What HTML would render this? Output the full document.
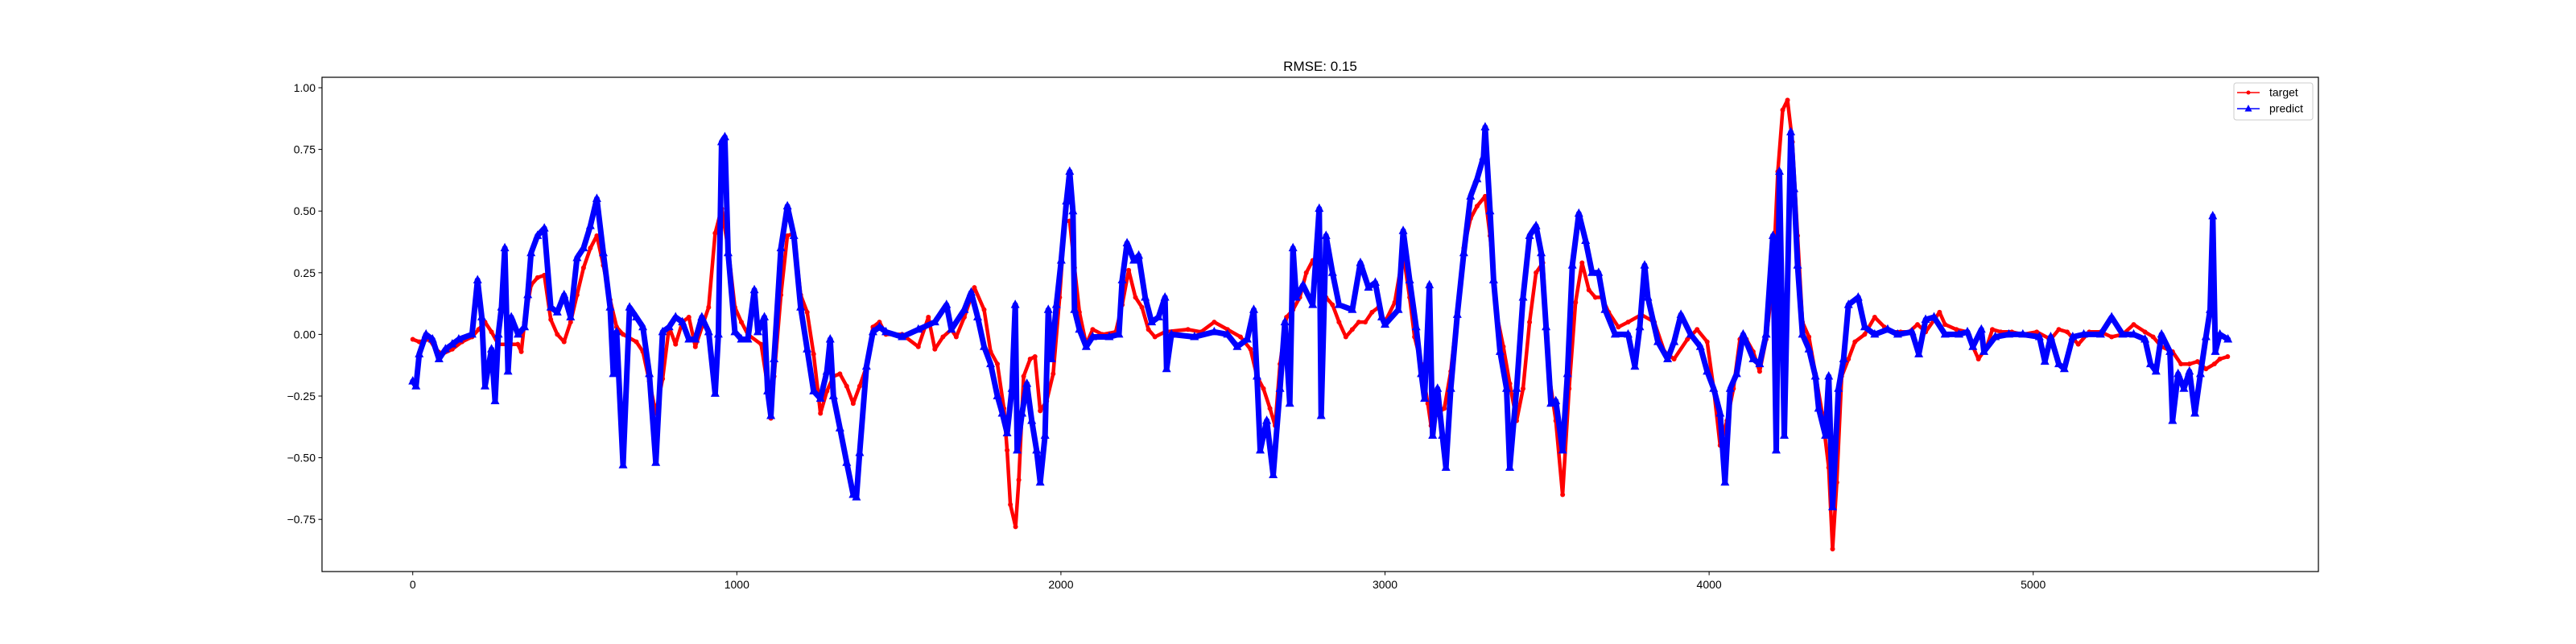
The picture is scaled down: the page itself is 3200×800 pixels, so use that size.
<!DOCTYPE html>
<html><head><meta charset="utf-8"><style>
html,body{margin:0;padding:0;background:#fff;}
svg{display:block;font-family:"Liberation Sans","DejaVu Sans",sans-serif;}
</style></head><body>
<svg id="chart" width="3200" height="800" viewBox="0 0 3200 800">
<rect x="0" y="0" width="3200" height="800" fill="#fff"/>
<text x="1640" y="88" text-anchor="middle" font-size="17" fill="#000">RMSE: 0.15</text>
<g id="plot"></g>
<g id="axes"></g>
<rect x="400" y="96" width="2480" height="614" fill="none" stroke="#000" stroke-width="1.2"/>
<g>
<rect x="2775" y="103" width="98" height="46" rx="3" fill="#fff" fill-opacity="0.8" stroke="#ccc"/>
<g>
<line x1="2779" y1="115" x2="2807" y2="115" stroke="#f00" stroke-width="1.5"/>
<circle cx="2793" cy="115" r="2.5" fill="#f00"/>
<text x="2819" y="119.5" font-size="14" fill="#000">target</text>
</g>
<g>
<line x1="2779" y1="135" x2="2807" y2="135" stroke="#00f" stroke-width="1.5"/>
<polygon points="2793,130 2797.5,138.5 2788.5,138.5" fill="#00f"/>
<text x="2819" y="139.5" font-size="14" fill="#000">predict</text>
</g>
</g>
</svg>
<script>
const xTicks = [0, 1000, 2000, 3000, 4000, 5000];
const yTicks = [-0.75, -0.5, -0.25, 0, 0.25, 0.5, 0.75, 1.0];
const yTickLabels = ["−0.75", "−0.50", "−0.25", "0.00", "0.25", "0.50", "0.75", "1.00"];
const targetX = [0,20,51,71,91,122,152,183,203,223,243,264,304,324,335,345,365,385,406,426,446,467,487,507,527,548,568,588,609,629,649,690,710,730,750,771,791,811,832,852,872,913,933,953,973,994,1014,1034,1075,1095,1105,1115,1136,1156,1176,1197,1217,1237,1258,1278,1298,1318,1339,1359,1379,1400,1420,1440,1460,1510,1560,1591,1611,1636,1662,1677,1702,1733,1763,1783,1804,1824,1834,1844,1860,1870,1885,1905,1920,1936,1956,1976,1996,2012,2027,2042,2057,2078,2098,2128,2169,2189,2209,2230,2250,2270,2290,2321,2392,2432,2473,2514,2554,2585,2605,2625,2645,2661,2676,2696,2716,2737,2757,2777,2797,2818,2838,2858,2879,2899,2919,2939,2960,2980,3000,3030,3056,3076,3091,3112,3132,3142,3162,3183,3203,3223,3243,3264,3284,3309,3324,3345,3365,3385,3406,3426,3446,3466,3487,3507,3527,3548,3568,3588,3608,3629,3649,3669,3690,3720,3750,3791,3831,3862,3892,3933,3963,3994,4014,4034,4055,4075,4095,4115,4136,4156,4176,4197,4212,4227,4242,4257,4273,4288,4308,4328,4349,4369,4381,4394,4409,4430,4450,4480,4511,4541,4566,4591,4617,4643,4668,4711,4728,4763,4797,4814,4831,4857,4874,4900,4934,4968,5011,5054,5079,5105,5139,5173,5208,5242,5276,5310,5345,5370,5396,5430,5456,5482,5507,5533,5559,5576,5600];
const targetY = [-0.02,-0.03,-0.02,-0.06,-0.08,-0.06,-0.03,-0.01,0.02,0.05,0.01,-0.04,-0.04,-0.04,-0.07,0.05,0.20,0.23,0.24,0.06,0.0,-0.03,0.05,0.16,0.27,0.35,0.40,0.28,0.14,0.03,0.0,-0.03,-0.07,-0.19,-0.32,-0.18,0.03,-0.04,0.05,0.07,-0.05,0.11,0.41,0.51,0.35,0.11,0.05,0.0,-0.04,-0.21,-0.34,-0.17,0.16,0.40,0.41,0.16,0.09,-0.08,-0.32,-0.23,-0.17,-0.16,-0.21,-0.28,-0.21,-0.13,0.03,0.05,0.0,0,-0.05,0.07,-0.06,-0.01,0.02,-0.01,0.07,0.19,0.10,-0.07,-0.12,-0.30,-0.47,-0.69,-0.78,-0.59,-0.17,-0.10,-0.09,-0.31,-0.27,-0.16,0.15,0.46,0.46,0.27,0.09,-0.04,0.02,0,0.01,0.12,0.26,0.15,0.11,0.02,-0.01,0.01,0.02,0.01,0.05,0.02,-0.01,-0.06,-0.17,-0.22,-0.30,-0.37,-0.12,0.07,0.10,0.15,0.25,0.30,0.22,0.15,0.12,0.05,-0.01,0.02,0.05,0.05,0.09,0.11,0.05,0.13,0.33,0.15,-0.01,-0.12,-0.28,-0.37,-0.32,-0.30,-0.15,0.09,0.35,0.47,0.52,0.56,0.40,0.08,-0.05,-0.20,-0.35,-0.22,0.05,0.25,0.29,-0.17,-0.35,-0.65,-0.22,0.13,0.29,0.18,0.15,0.15,0.09,0.03,0.05,0.08,0.05,-0.07,-0.10,-0.02,0.02,-0.03,-0.22,-0.45,-0.35,-0.22,-0.02,-0.02,-0.07,-0.15,-0.02,0.22,0.66,0.91,0.95,0.78,0.40,0.05,-0.01,-0.16,-0.32,-0.54,-0.87,-0.60,-0.17,-0.10,-0.03,0.0,0.07,0.03,0.01,0.01,0.01,0.04,0.01,0.09,0.04,0.02,0.01,-0.05,-0.10,-0.05,0.02,0.01,0.01,0.0,0.01,-0.02,0.02,0.01,-0.04,0.01,0.01,-0.01,0.0,0.04,0.01,-0.01,-0.05,-0.07,-0.12,-0.12,-0.11,-0.14,-0.12,-0.10,-0.09];
const predictX = [0,10,20,41,61,81,101,122,142,183,200,213,223,243,254,264,274,284,294,304,325,345,355,365,385,406,426,446,467,487,507,527,548,568,588,609,619,629,649,669,690,710,730,750,771,791,811,832,852,872,892,913,933,943,953,963,973,994,1014,1034,1054,1065,1085,1095,1105,1115,1136,1156,1176,1197,1217,1237,1258,1278,1288,1298,1318,1339,1359,1369,1379,1400,1420,1440,1460,1510,1560,1611,1647,1662,1702,1723,1743,1763,1783,1804,1819,1834,1849,1859,1865,1880,1895,1910,1925,1936,1951,1961,1971,1986,2001,2017,2027,2037,2042,2057,2078,2098,2149,2179,2189,2204,2225,2240,2260,2280,2301,2321,2326,2341,2412,2473,2514,2544,2575,2595,2605,2615,2635,2655,2676,2691,2706,2716,2726,2747,2777,2797,2803,2818,2838,2858,2899,2924,2949,2970,2990,3000,3041,3056,3076,3096,3112,3122,3137,3147,3162,3177,3188,3203,3223,3243,3264,3284,3304,3309,3324,3335,3355,3375,3385,3406,3426,3446,3466,3482,3497,3512,3527,3548,3563,3578,3598,3619,3639,3659,3679,3710,3750,3771,3786,3801,3811,3842,3872,3892,3913,3943,3973,3994,4014,4034,4049,4065,4085,4105,4136,4156,4176,4197,4207,4217,4232,4252,4262,4273,4288,4308,4328,4338,4359,4369,4381,4399,4415,4430,4460,4480,4511,4551,4582,4626,4647,4668,4694,4728,4771,4797,4814,4840,4848,4883,4925,4968,5019,5036,5054,5079,5096,5122,5156,5208,5242,5276,5310,5345,5362,5379,5396,5422,5430,5447,5465,5482,5499,5516,5533,5546,5554,5562,5576,5601];
const predictY = [-0.19,-0.21,-0.08,0.0,-0.02,-0.10,-0.06,-0.04,-0.02,0.0,0.22,0.07,-0.21,-0.06,-0.27,0.0,0.11,0.35,-0.15,0.07,0.0,0.03,0.16,0.33,0.40,0.43,0.11,0.09,0.16,0.07,0.31,0.35,0.44,0.55,0.33,0.11,-0.16,0.01,-0.53,0.11,0.07,0.03,-0.16,-0.52,0.01,0.03,0.07,0.05,-0.02,-0.02,0.07,0.01,-0.24,0.0,0.78,0.80,0.33,0.01,-0.02,-0.02,0.18,0.01,0.07,-0.23,-0.33,-0.10,0.35,0.52,0.40,0.11,-0.06,-0.23,-0.26,-0.15,-0.02,-0.25,-0.38,-0.52,-0.65,-0.66,-0.48,-0.13,0.01,0.03,0.01,-0.01,0.02,0.05,0.12,0.02,0.10,0.17,0.07,-0.05,-0.12,-0.25,-0.32,-0.40,-0.22,0.12,-0.47,-0.32,-0.20,-0.35,-0.47,-0.60,-0.41,0.10,-0.10,0.12,0.30,0.54,0.66,0.50,0.10,0.02,-0.05,-0.01,-0.01,0.0,0.22,0.37,0.30,0.32,0.15,0.05,0.07,0.15,-0.14,0.0,-0.01,0.01,0.0,-0.05,-0.02,0.10,-0.17,-0.47,-0.35,-0.57,-0.22,0.05,-0.28,0.35,0.15,0.20,0.12,0.51,-0.33,0.40,0.25,0.12,0.10,0.29,0.19,0.21,0.07,0.04,0.10,0.42,0.22,0.03,-0.16,-0.26,0.20,-0.41,-0.22,-0.41,-0.54,-0.22,0.08,0.33,0.56,0.63,0.72,0.84,0.50,0.22,-0.07,-0.22,-0.54,-0.22,0.15,0.40,0.44,0.33,0.03,-0.28,-0.27,-0.47,-0.16,0.28,0.49,0.38,0.25,0.25,0.10,0.0,0.0,-0.13,0.03,0.28,0.15,-0.03,-0.10,-0.03,0.08,0.0,-0.05,-0.15,-0.22,-0.32,-0.60,-0.22,-0.16,0.0,-0.10,-0.12,0.0,0.40,-0.47,0.66,-0.41,0.82,0.59,0.28,0.0,-0.06,-0.17,-0.30,-0.41,-0.17,-0.70,-0.22,-0.10,0.12,0.15,0.03,0.0,0.02,0.0,0.01,-0.08,0.06,0.07,0.0,0.0,0.01,-0.05,0.02,-0.07,-0.01,0.0,0.0,-0.01,-0.11,-0.01,-0.12,-0.14,-0.01,0.0,0.0,0.07,0.0,0.0,-0.02,-0.12,-0.15,0.0,-0.07,-0.35,-0.16,-0.22,-0.15,-0.32,-0.16,-0.01,0.10,0.48,-0.07,0.0,-0.02];

const NS = "http://www.w3.org/2000/svg";
const X0 = -280, X1 = 5880, PX0 = 400, PX1 = 2880;
const Y0 = 1.0, PY0 = 109, PYS = 306.4;
function sx(v){ return PX0 + (v - X0) / (X1 - X0) * (PX1 - PX0); }
function sy(v){ return PY0 + (Y0 - v) * PYS; }

const axes = document.getElementById('axes');
xTicks.forEach(function(t){
  const x = sx(t);
  const l = document.createElementNS(NS,'line');
  l.setAttribute('x1',x); l.setAttribute('x2',x); l.setAttribute('y1',710); l.setAttribute('y2',714.5);
  l.setAttribute('stroke','#000'); l.setAttribute('stroke-width','1');
  
  
  axes.appendChild(l);
  const tx = document.createElementNS(NS,'text');
  tx.setAttribute('x',x); tx.setAttribute('y',731); tx.setAttribute('text-anchor','middle');
  tx.setAttribute('font-size','14'); tx.setAttribute('fill','#000');
  tx.textContent = String(t);
  
  
  axes.appendChild(tx);
});
yTicks.forEach(function(t, i){
  const y = sy(t);
  const l = document.createElementNS(NS,'line');
  l.setAttribute('x1',395.5); l.setAttribute('x2',400); l.setAttribute('y1',y); l.setAttribute('y2',y);
  l.setAttribute('stroke','#000'); l.setAttribute('stroke-width','1');
  
  
  axes.appendChild(l);
  const tx = document.createElementNS(NS,'text');
  tx.setAttribute('x',392); tx.setAttribute('y',y+5); tx.setAttribute('text-anchor','end');
  tx.setAttribute('font-size','14'); tx.setAttribute('fill','#000');
  tx.textContent = yTickLabels[i];
  
  
  axes.appendChild(tx);
});

const plot = document.getElementById('plot');
function drawSeries(xs, ys, color, width, marker, name){
  const g = document.createElementNS(NS,'g');
  
  
  const pts = xs.map(function(x,i){ return sx(x).toFixed(1)+','+sy(ys[i]).toFixed(1); }).join(' ');
  const pl = document.createElementNS(NS,'polyline');
  pl.setAttribute('points', pts);
  pl.setAttribute('fill','none'); pl.setAttribute('stroke',color);
  pl.setAttribute('stroke-width',width); pl.setAttribute('stroke-linejoin','round'); pl.setAttribute('stroke-linecap','round');
  
  
  g.appendChild(pl);
  xs.forEach(function(x,i){
    const cx = sx(x), cy = sy(ys[i]);
    let m;
    if (marker === 'dot') {
      m = document.createElementNS(NS,'circle');
      m.setAttribute('cx',cx); m.setAttribute('cy',cy); m.setAttribute('r',3);
    } else {
      m = document.createElementNS(NS,'polygon');
      m.setAttribute('points', cx+','+(cy-6.5)+' '+(cx+5.5)+','+(cy+4)+' '+(cx-5.5)+','+(cy+4));
    }
    m.setAttribute('fill',color);
    
    
    g.appendChild(m);
  });
  plot.appendChild(g);
}
drawSeries(targetX, targetY, '#ff0000', 4.5, 'dot', 'target-series');
drawSeries(predictX, predictY, '#0000ff', 7, 'tri', 'predict-series');
</script>
</body></html>
